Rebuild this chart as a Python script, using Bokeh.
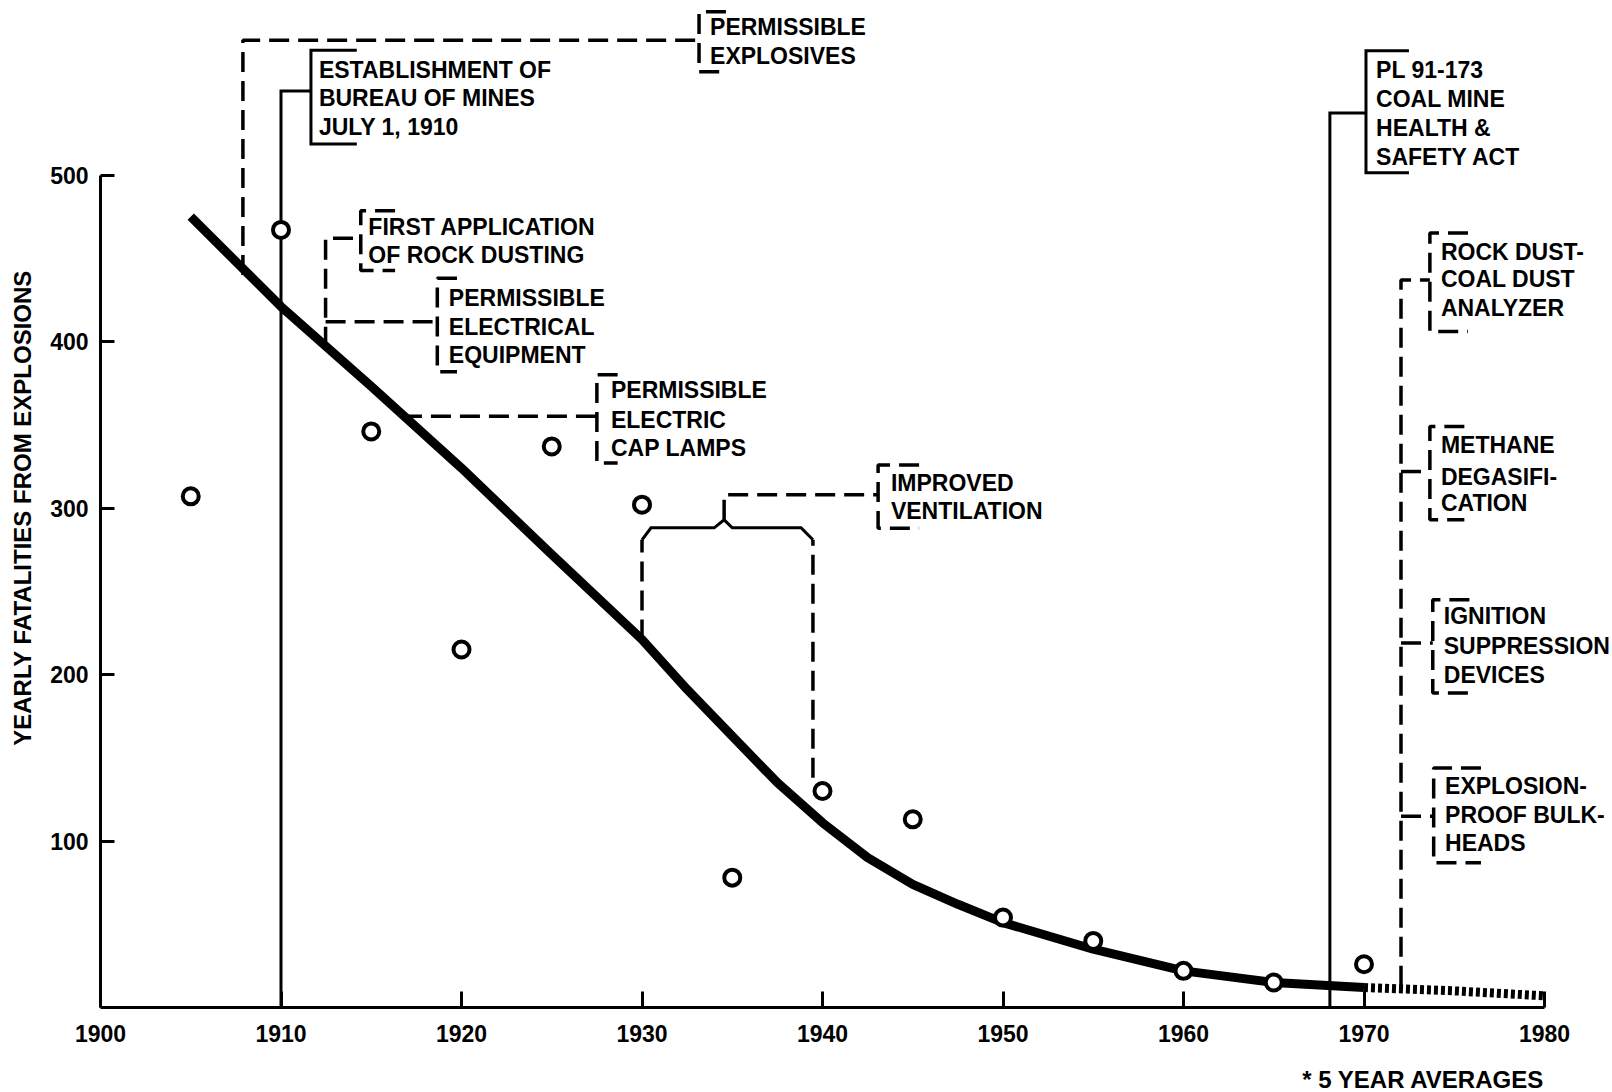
from bokeh.plotting import figure
from bokeh.models import Range1d, FixedTicker, Title, ColumnDataSource
from bokeh.core.properties import value
from bokeh.embed import file_html
from bokeh.resources import INLINE

# ---------------- data ----------------
avg_years = [1905, 1910, 1915, 1920, 1925, 1930, 1935, 1940, 1945, 1950, 1955, 1960, 1965, 1970]
avg_fatalities = [307, 467, 346, 215, 337, 302, 78, 130, 113, 54, 40, 22, 15, 26]

trend_years = [1905, 1910, 1915, 1920, 1925, 1930, 1932.5, 1935, 1937.5, 1940, 1942.5,
               1945, 1947.5, 1950, 1955, 1960, 1965, 1970]
trend_values = [475, 421, 373, 324, 272, 221, 191, 163, 135, 111, 90,
                74, 62, 51, 35, 22, 15, 12]

projection_years = [1970, 1975, 1980]
projection_values = [12, 10, 7]

x_ticks = [1900, 1910, 1920, 1930, 1940, 1950, 1960, 1970, 1980]
y_ticks = [100, 200, 300, 400, 500]

y_title = "YEARLY FATALITIES FROM EXPLOSIONS"
footnote = "* 5 YEAR AVERAGES"

# ---------------- annotations (label texts + placement) ----------------
notes = [
    dict(lines=["ESTABLISHMENT OF", "BUREAU OF MINES", "JULY 1, 1910"], dash=False,
         tx=1912.1, ty=[563.0, 546.0, 529.0], bx=1911.66, btop=575.0, bbot=518.6, arm=1914.2,
         leader=[(1910, 0), (1910, 550.4), (1911.66, 550.4)]),
    dict(lines=["PERMISSIBLE", "EXPLOSIVES"], dash=True,
         tx=1933.77, ty=[589.0, 571.7], bx=1933.16, btop=598.0, bbot=562.0, arm=1934.65,
         leader=[(1907.89, 440), (1907.89, 581.0), (1933.16, 581.0)]),
    dict(lines=["FIRST APPLICATION", "OF ROCK DUSTING"], dash=True,
         tx=1914.84, ty=[469.0, 452.0], bx=1914.42, btop=478.6, bbot=442.6, arm=1916.32,
         leader=[(1912.47, 396.8), (1912.47, 462.0), (1914.42, 462.0)]),
    dict(lines=["PERMISSIBLE", "ELECTRICAL", "EQUIPMENT"], dash=True,
         tx=1919.30, ty=[426.0, 408.9, 392.0], bx=1918.66, btop=438.0, bbot=381.9, arm=1919.75,
         leader=[(1912.47, 411.9), (1918.66, 411.9)]),
    dict(lines=["PERMISSIBLE", "ELECTRIC", "CAP LAMPS"], dash=True,
         tx=1928.28, ty=[371.0, 353.0, 336.0], bx=1927.5, btop=380.0, bbot=327.0, arm=1928.65,
         leader=[(1916.7, 355.1), (1927.5, 355.1)]),
    dict(lines=["IMPROVED", "VENTILATION"], dash=True,
         tx=1943.79, ty=[315.3, 297.9], bx=1943.08, btop=325.9, bbot=287.9, arm=1945.35,
         leader=[(1934.55, 292.9), (1934.55, 307.9), (1943.08, 307.9)]),
    dict(lines=["PL 91-173", "COAL MINE", "HEALTH &", "SAFETY ACT"], dash=False,
         tx=1970.67, ty=[563.0, 545.6, 528.4, 511.0], bx=1970.11, btop=574.6, bbot=501.4, arm=1972.49,
         leader=[(1968.11, 0), (1968.11, 537.2), (1970.11, 537.2)]),
    dict(lines=["ROCK DUST-", "COAL DUST", "ANALYZER"], dash=True,
         tx=1974.26, ty=[454.0, 437.4, 420.0], bx=1973.65, btop=465.2, bbot=406.0, arm=1975.76,
         leader=[(1972.05, 13.0), (1972.05, 437.0), (1973.65, 437.0)]),
    dict(lines=["METHANE", "DEGASIFI-", "CATION"], dash=True,
         tx=1974.26, ty=[337.9, 318.9, 302.9], bx=1973.65, btop=348.9, bbot=292.9, arm=1975.56,
         leader=[(1972.05, 321.9), (1973.65, 321.9)]),
    dict(lines=["IGNITION", "SUPPRESSION", "DEVICES"], dash=True,
         tx=1974.42, ty=[234.9, 216.9, 199.9], bx=1973.81, btop=244.9, bbot=188.9, arm=1975.84,
         leader=[(1972.05, 218.9), (1973.81, 218.9)]),
    dict(lines=["EXPLOSION-", "PROOF BULK-", "HEADS"], dash=True,
         tx=1974.49, ty=[132.8, 115.8, 98.9], bx=1973.86, btop=143.9, bbot=86.9, arm=1976.48,
         leader=[(1972.05, 114.8), (1973.86, 114.8)]),
]

# improved-ventilation span (1930-1940) legs and brace
vent_legs = [[(1930, 221.0), (1930, 280.9)], [(1939.47, 138.0), (1939.47, 280.9)]]
vent_brace = [(1930, 280.9), (1930.5, 288.1), (1934.0, 288.1), (1934.55, 292.9),
              (1935.0, 288.1), (1938.81, 288.1), (1939.47, 280.9)]

# ---------------- figure ----------------
FONT = "Liberation Sans"
PX_PER_YEAR = 18.05
W, H = 1612, 1092
LEFT = 100
TOP = 8
FRAME_H = 1000
x_end = 1900 + (W - LEFT) / PX_PER_YEAR

p = figure(width=W, height=H, x_range=Range1d(1900, x_end), y_range=Range1d(0, 600),
           output_backend="svg", toolbar_location=None,
           min_border_left=LEFT, min_border_right=0, min_border_top=TOP,
           min_border_bottom=H - TOP - FRAME_H)
p.outline_line_color = None
p.grid.visible = False
p.background_fill_color = "white"
p.border_fill_color = "white"

xa = p.xaxis[0]
xa.ticker = FixedTicker(ticks=x_ticks)
xa.bounds = (1900, 1980)
xa.major_tick_in = 16
xa.major_tick_out = 0
xa.minor_tick_line_color = None
xa.axis_line_width = 3
xa.major_tick_line_width = 3
xa.axis_line_color = "black"
xa.major_tick_line_color = "black"
xa.major_label_text_font = FONT
xa.major_label_text_font_size = "23px"
xa.major_label_text_font_style = "bold"
xa.major_label_text_color = "black"
xa.major_label_standoff = 17
# blank axis label only used as a spacer above the footnote
xa.axis_label = "\u00a0"
xa.axis_label_text_font_size = "14px"
xa.axis_label_standoff = 0

ya = p.yaxis[0]
ya.ticker = FixedTicker(ticks=y_ticks)
ya.bounds = (0, 500)
ya.major_tick_in = 14
ya.major_tick_out = 0
ya.minor_tick_line_color = None
ya.axis_line_width = 3
ya.major_tick_line_width = 3
ya.axis_line_color = "black"
ya.major_tick_line_color = "black"
ya.major_label_text_font = FONT
ya.major_label_text_font_size = "23px"
ya.major_label_text_font_style = "bold"
ya.major_label_text_color = "black"
ya.major_label_standoff = 12
ya.axis_label = y_title
ya.axis_label_text_font = FONT
ya.axis_label_text_font_size = "24px"
ya.axis_label_text_font_style = "bold"
ya.axis_label_text_color = "black"
ya.axis_label_standoff = 11

# annotation lines
solid_xs, solid_ys, dash_xs, dash_ys = [], [], [], []
tx, ty, tt = [], [], []
for n in notes:
    bxs = [n["arm"], n["bx"], n["bx"], n["arm"]]
    bys = [n["btop"], n["btop"], n["bbot"], n["bbot"]]
    lxs = [pt[0] for pt in n["leader"]]
    lys = [pt[1] for pt in n["leader"]]
    if n["dash"]:
        dash_xs += [bxs, lxs]
        dash_ys += [bys, lys]
    else:
        solid_xs += [bxs, lxs]
        solid_ys += [bys, lys]
    for line, yy in zip(n["lines"], n["ty"]):
        tx.append(n["tx"])
        ty.append(yy)
        tt.append(line)
for leg in vent_legs:
    dash_xs.append([pt[0] for pt in leg])
    dash_ys.append([pt[1] for pt in leg])
solid_xs.append([pt[0] for pt in vent_brace])
solid_ys.append([pt[1] for pt in vent_brace])

p.multi_line(xs=solid_xs, ys=solid_ys, line_color="black", line_width=3, line_join="miter")
p.multi_line(xs=dash_xs, ys=dash_ys, line_color="black", line_width=3.5, line_dash="20 9")

# trend curve and projection
p.line(trend_years, trend_values, line_color="black", line_width=9, line_join="round", line_cap="butt")
p.line(projection_years, projection_values, line_color="black", line_width=9, line_dash="4 3", line_cap="butt")

# 5-year averages
p.scatter(x=avg_years, y=avg_fatalities, marker="circle", size=16, line_width=4,
          line_color="black", fill_color="white")

text_src = ColumnDataSource(dict(x=tx, y=ty, t=tt))
p.text(x="x", y="y", text="t", source=text_src, text_font=value(FONT), text_font_size="23px",
       text_font_style="bold", text_color="black", text_baseline="middle", text_align="left")

foot = Title(text=footnote, align="right", offset=W - (LEFT + 80 * PX_PER_YEAR),
             text_font=FONT, text_font_size="24px", text_font_style="bold", text_color="black",
             standoff=0)
p.add_layout(foot, "below")

open("out.html", "w").write(file_html(p, INLINE))
